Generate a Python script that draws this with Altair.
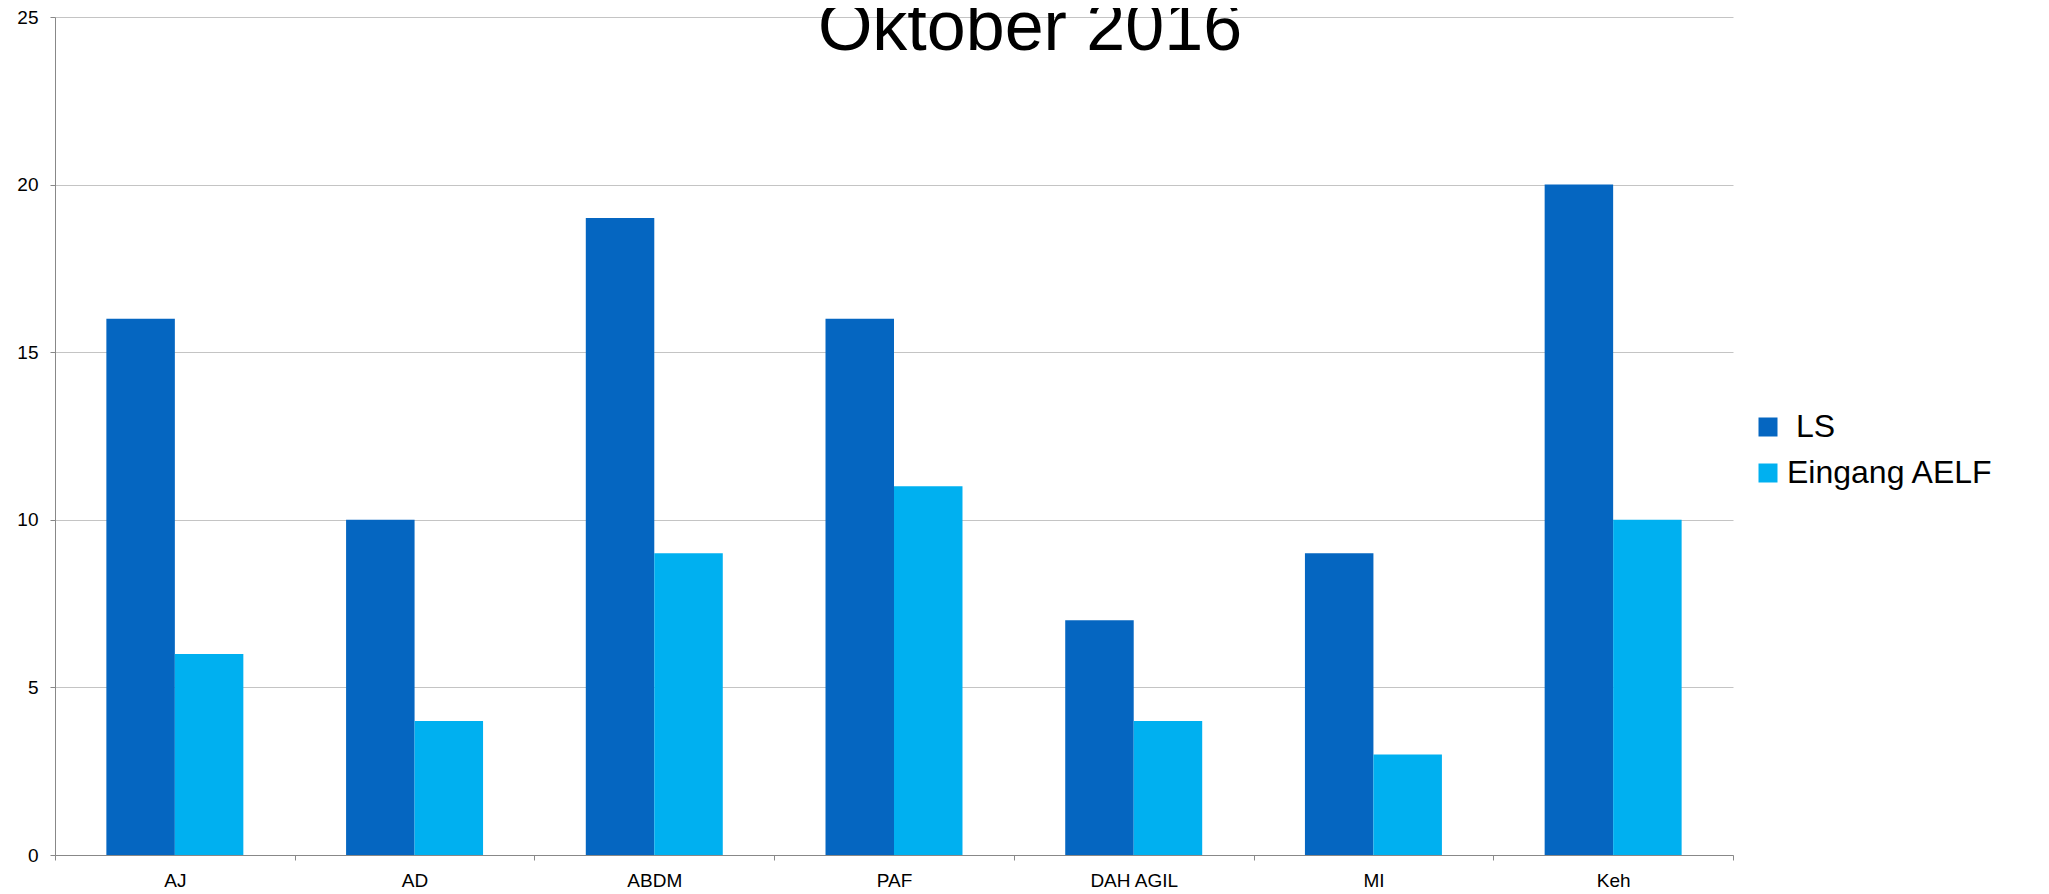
import altair as alt
import pandas as pd

categories = ["AJ", "AD", "ABDM", "PAF", "DAH AGIL", "MI", "Keh"]
series_names = [" LS", "Eingang AELF"]
ls_values = [16, 10, 19, 16, 7, 9, 20]
aelf_values = [6, 4, 9, 11, 4, 3, 10]
colors = ["#0566C1", "#00B0F0"]
y_ticks = [0, 5, 10, 15, 20, 25]
title_text = "Oktober 2016"

rows = []
for c, v in zip(categories, ls_values):
    rows.append({"cat": c, "series": series_names[0], "value": v})
for c, v in zip(categories, aelf_values):
    rows.append({"cat": c, "series": series_names[1], "value": v})
df = pd.DataFrame(rows)

FONT = "Liberation Sans"

bars = alt.Chart(df).mark_bar().encode(
    x=alt.X("cat:N", sort=categories,
            scale=alt.Scale(paddingInner=0, paddingOuter=0),
            axis=alt.Axis(title=None, labelAngle=0, labelFont=FONT, labelFontSize=19,
                          labelColor="#000000", labelPadding=11, tickBand="extent",
                          tickSize=5, tickColor="#888888", domainColor="#888888",
                          grid=False)),
    xOffset=alt.XOffset("series:N", sort=series_names,
                        scale=alt.Scale(paddingOuter=0.75, paddingInner=0)),
    y=alt.Y("value:Q", scale=alt.Scale(domain=[0, 25], nice=False),
            axis=alt.Axis(title=None, values=y_ticks, labelFont=FONT, labelFontSize=19,
                          labelColor="#000000", labelPadding=12, tickSize=5,
                          tickColor="#888888", domainColor="#888888",
                          gridColor="#C4C4C4", gridWidth=1)),
    color=alt.Color("series:N", sort=series_names,
                    scale=alt.Scale(domain=series_names, range=colors),
                    legend=alt.Legend(title=None, orient="none", legendX=1697, legendY=394,
                                      symbolType="square", symbolSize=361,
                                      symbolStrokeWidth=0, labelFont=FONT,
                                      labelFontSize=32, labelColor="#000000",
                                      labelOffset=3, rowPadding=14, labelLimit=0,
                                      labelExpr="test(/Eingang/, datum.label) ? datum.label : '\\u200b\\u00a0LS'")),
)

title = alt.Chart(pd.DataFrame({"t": [title_text]})).mark_text(
    font=FONT, fontSize=70, color="#000000", align="center", baseline="alphabetic"
).encode(text="t:N", x=alt.value(975), y=alt.value(33))

chart = alt.layer(bars, title).properties(
    width=1678,
    height=838,
    autosize="none",
    padding={"left": 47, "top": 9, "right": 300, "bottom": 45},
).configure_view(stroke=None)

chart.save("out.html", embed_options={"renderer": "svg", "actions": False})
